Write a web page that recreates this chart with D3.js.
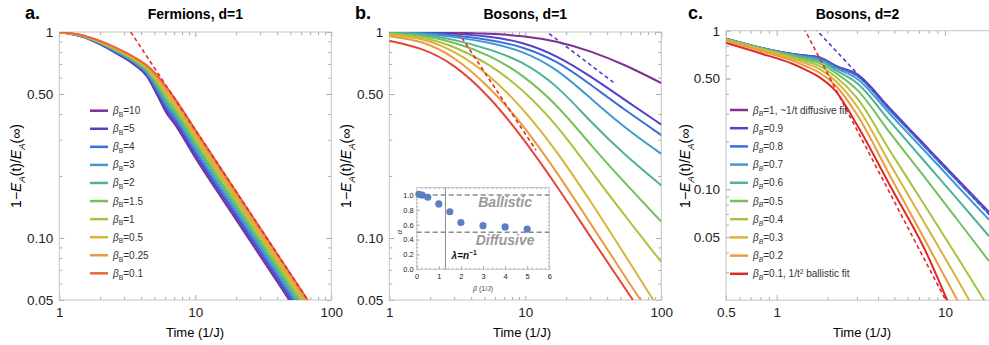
<!DOCTYPE html>
<html>
<head>
<meta charset="utf-8">
<script src="https://cdn.jsdelivr.net/npm/d3@7"></script>
<style>
  body { margin: 0; background: #fff; }
  svg { display: block; font-family: "Liberation Sans", Arial, sans-serif; }
</style>
</head>
<body>
<svg id="chart" width="989" height="345"></svg>
<script>
// ---------- data ----------

// panel a: fermions, d=1
const betasA = ['10', '5', '4', '3', '2', '1.5', '1', '0.5', '0.25', '0.1'];
const timesA = [1, 1.5, 2, 2.6, 3.5, 4.4, 5.2, 6.2, 7, 10, 20, 40, 70, 100];
const fermionsD1 = [
    [1, .945, .870, .790, .700, .610, .500, .400, .360, .245, .1225, .0613, .0350, .0245],
    [1, .947, .874, .795, .706, .618, .512, .413, .372, .254, .1270, .0635, .0363, .0254],
    [1, .949, .878, .801, .713, .627, .524, .427, .384, .263, .1315, .0658, .0376, .0263],
    [1, .951, .881, .806, .719, .636, .537, .441, .396, .272, .1360, .0680, .0389, .0272],
    [1, .952, .885, .812, .726, .644, .550, .455, .409, .282, .1410, .0705, .0403, .0282],
    [1, .954, .889, .817, .733, .653, .563, .470, .422, .291, .1455, .0728, .0416, .0291],
    [1, .956, .893, .823, .739, .662, .577, .485, .436, .302, .1510, .0755, .0431, .0302],
    [1, .958, .897, .828, .746, .671, .591, .501, .450, .312, .1560, .0780, .0446, .0312],
    [1, .960, .901, .834, .753, .681, .605, .518, .465, .323, .1615, .0808, .0461, .0323],
    [1, .962, .905, .840, .760, .690, .620, .535, .480, .335, .1675, .0838, .0479, .0335]
];
const fitA = [[3.35, 1.0], [100, 0.0335]];

// panel b: bosons, d=1 (same beta values as panel a)
const timesB = [1, 1.75, 3, 5.4, 9.5, 17.4, 30.6, 54, 100];
const bosonsD1 = [
    [1.000, 1.000, .993, .982, .960, .901, .806, .694, .565],
    [.999, .996, .982, .952, .897, .765, .606, .468, .355],
    [.997, .992, .965, .918, .852, .722, .552, .418, .316],
    [.995, .987, .948, .890, .812, .660, .472, .342, .256],
    [.991, .977, .920, .828, .722, .548, .362, .253, .180],
    [.985, .965, .894, .775, .625, .440, .280, .185, .120],
    [.977, .950, .853, .703, .530, .350, .210, .128, .0765],
    [.970, .935, .812, .625, .430, .260, .149, .0826, .0434],
    [.955, .907, .762, .545, .360, .205, .116, .065, .0352],
    [.907, .837, .699, .491, .310, .176, .0996, .0573, .031]
];
const fitBballistic = [[3.2, 1.0], [12, 0.267]];
const fitBdiffusive = [[13.6, 1.03], [44.4, 0.57]];

// inset of panel b: exponent alpha vs beta
const insetBeta = [0.1, 0.25, 0.5, 1, 1.5, 2, 3, 4, 5];
const insetAlpha = [1.01, 1.0, 0.97, 0.88, 0.775, 0.63, 0.587, 0.57, 0.54];
const insetRefLines = [1.0, 0.5];
const insetLambda = 1.3;

// panel c: bosons, d=2
const betasC = ['1, ~1/t diffusive fit', '0.9', '0.8', '0.7', '0.6', '0.5', '0.4', '0.3', '0.2', '0.1, 1/t'];
const timesC = [0.5, 0.79, 1.25, 1.5, 1.79, 2.25, 3, 4.73, 7.49, 11.85, 18.3];
const bosonsD2 = [
    [.890, .785, .713, .697, .680, .600, .533, .322, .193, .116, .072],
    [.890, .785, .712, .695, .678, .598, .528, .318, .191, .115, .071],
    [.890, .784, .710, .690, .672, .592, .520, .313, .188, .113, .070],
    [.890, .783, .706, .683, .660, .580, .498, .297, .177, .105, .0643],
    [.888, .781, .700, .672, .645, .562, .468, .267, .152, .0868, .0506],
    [.885, .778, .690, .658, .625, .540, .425, .226, .121, .0643, .0352],
    [.880, .773, .678, .640, .600, .510, .377, .174, .0808, .0374, .0178],
    [.872, .766, .664, .620, .575, .480, .334, .144, .0625, .0271, .012],
    [.862, .750, .645, .595, .545, .450, .296, .121, .0493, .020, .0085],
    [.836, .723, .617, .565, .510, .415, .255, .105, .043, .0145, .006]
];
const fitCballistic = [[1.45, 1.04], [10.5, 0.0185]];
const fitCdiffusive = [[1.68, 1.04], [18.5, 0.0685]];

// tick labels
const yTicksAB = [0.05, 0.1, 0.5, 1];
const yTickLabels = ['0.05', '0.10', '0.50', '1'];
const xTicksAB = [1, 10, 100];
const xTicksC = [0.5, 1, 10];

const rainbow = ['#7e2f95', '#5342c9', '#3d6fd9', '#3f9bcf', '#4fb196',
                 '#74c05c', '#a9c23f', '#d5b53a', '#eb9b3d', '#e8673c'];
const rainbowC = rainbow.slice(0, 9).concat(['#dc2a2a']);
const rainbowB = rainbow.slice(0, 9).concat(['#e4473a']);

// ---------- drawing ----------

const svg = d3.select('#chart');
const frameColor = '#c4c4c4';
const tickColor = '#a8a8a8';

function minorsBetween(lo, hi) {
    const out = [];
    for (let p = Math.floor(Math.log10(lo)); p <= Math.ceil(Math.log10(hi)); p++) {
        for (let k = 2; k <= 9; k++) {
            const v = k * Math.pow(10, p);
            if (v > lo * 1.0001 && v < hi * 0.9999) out.push(v);
        }
    }
    return out;
}

function rich(txt, parts, fs) {
    let shift = 0;
    parts.forEach(p => {
        const target = p.sub ? 0.28 * fs : p.sup ? -0.38 * fs : 0;
        const ts = txt.append('tspan').text(p.t).attr('dy', target - shift);
        shift = target;
        if (p.it) ts.style('font-style', 'italic');
        if (p.sub || p.sup) ts.attr('font-size', fs * 0.68);
    });
}

function styleAxis(sel, fs) {
    sel.select('.domain').remove();
    sel.selectAll('.tick line').attr('stroke', tickColor);
    sel.selectAll('.tick text').attr('fill', '#222').attr('font-size', fs)
        .attr('font-family', null);
}

function drawPanel(o) {
    const x = d3.scaleLog().domain(o.xDomain).range(o.xRange);
    const y = d3.scaleLog().domain(o.yDomain).range(o.yRange);
    const [x0, x1] = o.xRange;
    const [y0, y1] = o.yRange;
    const g = svg.append('g');

    svg.append('clipPath').attr('id', 'clip-' + o.id)
        .append('rect')
        .attr('x', x0).attr('y', y1)
        .attr('width', x1 - x0).attr('height', y0 - y1);

    const xMinor = minorsBetween(o.xDomain[0], o.xDomain[1]);
    const yMinor = minorsBetween(o.yDomain[0], o.yDomain[1]);

    // bottom axis, labels
    g.append('g').attr('transform', `translate(0,${y0})`)
        .call(d3.axisBottom(x).tickValues(o.xTicks).tickFormat(d => String(d))
            .tickSizeInner(-5).tickSizeOuter(0).tickPadding(7))
        .call(s => styleAxis(s, 13.5));
    g.append('g').attr('transform', `translate(0,${y0})`)
        .call(d3.axisBottom(x).tickValues(xMinor).tickFormat('').tickSizeInner(-3).tickSizeOuter(0))
        .call(s => styleAxis(s, 13.5));
    // top axis
    g.append('g').attr('transform', `translate(0,${y1})`)
        .call(d3.axisTop(x).tickValues(o.xTicks).tickFormat('').tickSizeInner(-5).tickSizeOuter(0))
        .call(s => styleAxis(s, 13.5));
    g.append('g').attr('transform', `translate(0,${y1})`)
        .call(d3.axisTop(x).tickValues(xMinor).tickFormat('').tickSizeInner(-3).tickSizeOuter(0))
        .call(s => styleAxis(s, 13.5));
    // left axis, labels
    g.append('g').attr('transform', `translate(${x0},0)`)
        .call(d3.axisLeft(y).tickValues(yTicksAB).tickFormat((d, i) => yTickLabels[i])
            .tickSizeInner(-5).tickSizeOuter(0).tickPadding(6))
        .call(s => styleAxis(s, 13.5));
    g.append('g').attr('transform', `translate(${x0},0)`)
        .call(d3.axisLeft(y).tickValues(yMinor).tickFormat('').tickSizeInner(-3).tickSizeOuter(0))
        .call(s => styleAxis(s, 13.5));
    // right axis
    g.append('g').attr('transform', `translate(${x1},0)`)
        .call(d3.axisRight(y).tickValues(yTicksAB).tickFormat('').tickSizeInner(-5).tickSizeOuter(0))
        .call(s => styleAxis(s, 13.5));
    g.append('g').attr('transform', `translate(${x1},0)`)
        .call(d3.axisRight(y).tickValues(yMinor).tickFormat('').tickSizeInner(-3).tickSizeOuter(0))
        .call(s => styleAxis(s, 13.5));

    g.append('rect')
        .attr('x', x0).attr('y', y1)
        .attr('width', x1 - x0).attr('height', y0 - y1)
        .attr('fill', 'none').attr('stroke', frameColor).attr('stroke-width', 1);

    // curves
    const plot = g.append('g').attr('clip-path', `url(#clip-${o.id})`);
    const line = d3.line().x(d => x(d[0])).y(d => y(d[1])).curve(o.curve || d3.curveMonotoneX);
    o.series.forEach((vals, i) => {
        plot.append('path')
            .datum(o.times.map((t, j) => [t, vals[j]]))
            .attr('d', line)
            .attr('fill', 'none')
            .attr('stroke', o.colors[i])
            .attr('stroke-width', 2);
    });
    const straight = d3.line().x(d => x(d[0])).y(d => y(d[1]));
    o.fits.forEach(f => {
        plot.append('path')
            .datum(f.pts)
            .attr('d', straight)
            .attr('fill', 'none')
            .attr('stroke', f.color)
            .attr('stroke-width', 1.6)
            .attr('stroke-dasharray', '4,3');
    });

    // titles and labels
    svg.append('text').attr('x', o.letterX).attr('y', 19)
        .attr('font-size', 18).attr('font-weight', 'bold').text(o.letter);
    svg.append('text').attr('x', (x0 + Math.min(x1, 989)) / 2).attr('y', 19)
        .attr('text-anchor', 'middle').attr('font-size', 14).attr('font-weight', 'bold')
        .text(o.title);
    svg.append('text').attr('x', o.xLabelX).attr('y', 337)
        .attr('text-anchor', 'middle').attr('font-size', 13).text('Time (1/J)');
    const yl = svg.append('text')
        .attr('transform', `translate(${o.yLabelX},166) rotate(-90)`)
        .attr('text-anchor', 'middle').attr('font-size', 14);
    rich(yl, [{ t: '1\u2212' }, { t: 'E', it: 1 }, { t: 'A', it: 1, sub: 1 }, { t: '(t)/' },
              { t: 'E', it: 1 }, { t: 'A', it: 1, sub: 1 }, { t: '(\u221e)' }], 14);

    return { x, y, g };
}

function drawLegend(labels, colors, lx, ly, step, italicSub, extra) {
    const lg = svg.append('g');
    labels.forEach((lab, i) => {
        const yy = ly + i * step;
        lg.append('line').attr('x1', lx).attr('x2', lx + 18).attr('y1', yy).attr('y2', yy)
            .attr('stroke', colors[i]).attr('stroke-width', 2.5);
        const t = lg.append('text').attr('x', lx + 23).attr('y', yy + 3.5)
            .attr('font-size', 10).attr('fill', '#333');
        const parts = [{ t: '\u03b2', it: 1 }, { t: 'B', it: italicSub, sub: 1 }, { t: '=' + lab }];
        if (extra && extra[i]) extra[i].forEach(p => parts.push(p));
        rich(t, parts, 10);
    });
}

// panel a
drawPanel({
    id: 'a', letter: 'a.', letterX: 25, title: 'Fermions, d=1',
    xDomain: [1, 100], xRange: [59.3, 331.3],
    yDomain: [0.05, 1], yRange: [300, 32],
    xTicks: xTicksAB, xLabelX: 195, yLabelX: 21,
    times: timesA, series: fermionsD1, colors: rainbow,
    fits: [{ pts: fitA, color: '#e02a2a' }]
});
drawLegend(betasA, rainbow, 90, 110.7, 18.07, 0);

// panel b
drawPanel({
    id: 'b', letter: 'b.', letterX: 355, title: 'Bosons, d=1',
    xDomain: [1, 100], xRange: [389.3, 661.3],
    yDomain: [0.05, 1], yRange: [300, 32],
    xTicks: xTicksAB, xLabelX: 522, yLabelX: 351,
    times: timesB, series: bosonsD1, colors: rainbowB, curve: d3.curveBasis,
    fits: [{ pts: fitBballistic, color: '#e02a2a' }, { pts: fitBdiffusive, color: '#5342c9' }]
});

// inset in panel b
(function drawInset() {
    const ix = d3.scaleLinear().domain([0, 6]).range([416.7, 549.3]);
    const iy = d3.scaleLinear().domain([0, 1.1]).range([269.3, 187.6]);
    const ig = svg.append('g');
    ig.append('rect').attr('x', 395).attr('y', 182).attr('width', 158).attr('height', 114)
        .attr('fill', '#fff');

    const ifs = 7.5;
    ig.append('g').attr('transform', `translate(0,${iy(0)})`)
        .call(d3.axisBottom(ix).tickValues(d3.range(0, 7)).tickFormat(d3.format('d'))
            .tickSizeInner(-3).tickSizeOuter(0).tickPadding(4))
        .call(s => styleAxis(s, ifs));
    ig.append('g').attr('transform', `translate(0,${iy(0)})`)
        .call(d3.axisBottom(ix).tickValues(d3.range(0.2, 6, 0.2)).tickFormat('')
            .tickSizeInner(-1.5).tickSizeOuter(0))
        .call(s => styleAxis(s, ifs));
    ig.append('g').attr('transform', `translate(0,${iy(1.1)})`)
        .call(d3.axisTop(ix).tickValues(d3.range(0.2, 6, 0.2)).tickFormat('')
            .tickSizeInner(-1.5).tickSizeOuter(0))
        .call(s => styleAxis(s, ifs));
    ig.append('g').attr('transform', `translate(${ix(0)},0)`)
        .call(d3.axisLeft(iy).tickValues(d3.range(0, 1.01, 0.2)).tickFormat(d3.format('.1f'))
            .tickSizeInner(-3).tickSizeOuter(0).tickPadding(3))
        .call(s => styleAxis(s, ifs));
    ig.append('g').attr('transform', `translate(${ix(0)},0)`)
        .call(d3.axisLeft(iy).tickValues(d3.range(0.05, 1.1, 0.05)).tickFormat('')
            .tickSizeInner(-1.5).tickSizeOuter(0))
        .call(s => styleAxis(s, ifs));
    ig.append('g').attr('transform', `translate(${ix(6)},0)`)
        .call(d3.axisRight(iy).tickValues(d3.range(0.05, 1.1, 0.05)).tickFormat('')
            .tickSizeInner(-1.5).tickSizeOuter(0))
        .call(s => styleAxis(s, ifs));
    ig.append('rect').attr('x', ix(0)).attr('y', iy(1.1))
        .attr('width', ix(6) - ix(0)).attr('height', iy(0) - iy(1.1))
        .attr('fill', 'none').attr('stroke', frameColor);

    ig.selectAll('line.ref').data(insetRefLines).enter().append('line')
        .attr('class', 'ref')
        .attr('x1', ix(0)).attr('x2', ix(6))
        .attr('y1', d => iy(d)).attr('y2', d => iy(d))
        .attr('stroke', '#8a8a8a').attr('stroke-width', 1.5).attr('stroke-dasharray', '5,3');
    ig.append('line')
        .attr('x1', ix(insetLambda)).attr('x2', ix(insetLambda))
        .attr('y1', iy(0)).attr('y2', iy(1.1))
        .attr('stroke', '#8a8a8a').attr('stroke-width', 1);

    ig.selectAll('circle').data(insetBeta).enter().append('circle')
        .attr('cx', d => ix(d)).attr('cy', (d, i) => iy(insetAlpha[i]))
        .attr('r', 3.6).attr('fill', '#5b80c0');

    ig.append('text').attr('x', ix(4)).attr('y', iy(0.835)).attr('text-anchor', 'middle')
        .attr('font-size', 14).attr('font-weight', 'bold').attr('font-style', 'italic')
        .attr('fill', '#999').text('Ballistic');
    ig.append('text').attr('x', ix(4)).attr('y', iy(0.327)).attr('text-anchor', 'middle')
        .attr('font-size', 14).attr('font-weight', 'bold').attr('font-style', 'italic')
        .attr('fill', '#999').text('Diffusive');
    const lam = ig.append('text').attr('x', ix(1.58)).attr('y', iy(0.135))
        .attr('font-size', 10).attr('font-weight', 'bold').attr('fill', '#111');
    rich(lam, [{ t: '\u03bb=', it: 1 }, { t: 'n', it: 1 }, { t: '\u22121', sup: 1 }], 10);

    const xl = ig.append('text').attr('x', ix(3)).attr('y', 290.5).attr('text-anchor', 'middle')
        .attr('font-size', 7).attr('fill', '#444');
    rich(xl, [{ t: '\u03b2', it: 1 }, { t: ' (1/J)' }], 7);
    ig.append('text').attr('transform', `translate(402,${iy(0.5)}) rotate(-90)`)
        .attr('text-anchor', 'middle').attr('font-size', 8).attr('font-style', 'italic')
        .attr('fill', '#444').text('\u03b1');
})();

// panel c
drawPanel({
    id: 'c', letter: 'c.', letterX: 688, title: 'Bosons, d=2',
    xDomain: [0.5, 20], xRange: [726, 995.6],
    yDomain: [0.02, 1], yRange: [300.2, 30.7],
    xTicks: xTicksC, xLabelX: 862, yLabelX: 690,
    times: timesC, series: bosonsD2, colors: rainbowC,
    fits: [{ pts: fitCballistic, color: '#e02a2a' }, { pts: fitCdiffusive, color: '#5342c9' }]
});
const legendExtraC = betasC.map((b, i) => i === betasC.length - 1
    ? [{ t: '2', sup: 1 }, { t: ' ballistic fit' }] : null);
drawLegend(betasC, rainbowC, 730, 110, 18.2, 1, legendExtraC);
</script>
</body>
</html>
